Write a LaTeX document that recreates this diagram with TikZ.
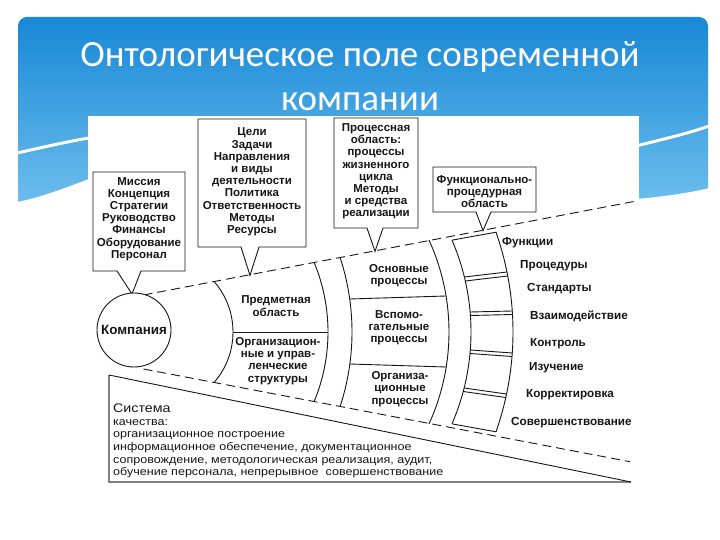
\documentclass[tikz,border=0pt]{standalone}
\usepackage{fontspec}
\setmainfont{Liberation Sans}
\newfontfamily\ttlfont{Carlito}
\newfontfamily\labfont{Liberation Sans}
\newfontfamily\sysfont[FakeStretch=1.14]{Liberation Sans}
\definecolor{hdrtop}{RGB}{24,136,214}
\definecolor{hdrbot}{RGB}{112,192,238}
\definecolor{ink}{RGB}{22,22,22}
\newcommand{\conearc}[4]{%
  \pgfmathsetmacro{\arcH}{0.1923*(#2+49)-#3}%
  \pgfmathsetmacro{\arcD}{#1-#2}%
  \pgfmathsetmacro{\arcR}{(\arcD*\arcD+\arcH*\arcH)/(2*\arcD)}%
  \pgfmathsetmacro{\arcA}{asin(\arcH/\arcR)}%
  \coordinate (#4-t) at (#2,{332-\arcH});%
  \coordinate (#4-b) at (#2,{332+\arcH});%
  \draw[ln] (#4-t) arc[start angle=-\arcA, end angle=\arcA, radius=\arcR];%
}
\tikzset{
  ln/.style={draw=ink, line width=0.9pt},
  dashln/.style={draw=ink, line width=0.9pt, dash pattern=on 9pt off 5pt},
  lab/.style={font=\labfont\bfseries\fontsize{11.5}{12.2}\selectfont, align=center, inner sep=0pt, text=ink},
  flab/.style={font=\labfont\bfseries\fontsize{11.7}{12.2}\selectfont, anchor=base west, inner sep=0pt, text=ink},
  sysl/.style={font=\sysfont\fontsize{11}{12.5}\selectfont, anchor=base west, inner sep=0pt, text=ink},
  ttl/.style={font=\ttlfont\fontsize{37}{40}\selectfont, text=white, anchor=base, inner sep=0pt}
}
\begin{document}
\begin{tikzpicture}[x=1pt,y=-1pt]
\useasboundingbox (0,0) rectangle (720,540);
\fill[white] (0,0) rectangle (720,540);
% header
\shade[top color=hdrtop, bottom color=hdrbot, rounded corners=9pt] (18,17) rectangle (708,212);
\fill[white] (17,213) -- (17,202) .. controls (40,198) and (70,186) .. (89,179) -- (89,213) -- cycle;
\fill[white] (636,213) -- (636,199) .. controls (660,197) and (690,193) .. (709,188) -- (709,213) -- cycle;
\draw[white, line width=3pt] (17,153) .. controls (40,148) and (65,142) .. (89,138);
\draw[white, line width=3pt] (636,146) .. controls (660,140) and (690,133) .. (709,126);
\node[ttl] (title1) at (360,67) {Онтологическое поле современной};
\node[ttl] (title2) at (360,111) {компании};
% diagram sheet
\fill[white] (88,116) rectangle (639,496);
% cone arcs
\conearc{233}{214}{0}{A1}
\conearc{328}{314}{0}{A2}
\conearc{352}{340}{0}{A3}
\conearc{449}{429}{0}{A4}
\conearc{471}{452}{4.5}{A5}
\conearc{513}{496}{5}{A6}
\draw[ln] (A5-t) -- (A6-t);
\draw[ln] (A5-b) -- (A6-b);
% dividers
\draw[ln] (233,332) -- (328,332);
\draw[ln] (349.7,299) -- (446,296);
\draw[ln] (349.8,364) -- (446.2,367);
% cell separators (double)
\draw[ln] (464.4,277) -- (507,272);
\draw[ln] (465.3,281) -- (507.8,276);
\draw[ln] (470.1,312) -- (512.3,311);
\draw[ln] (470.4,315.5) -- (512.6,314.5);
\draw[ln] (470.3,350) -- (512.3,353);
\draw[ln] (470,353.5) -- (512,356.5);
\draw[ln] (464.1,388) -- (506.5,394);
\draw[ln] (463.2,391.5) -- (505.8,397.5);
% dashed cone lines
\coordinate (upS) at (143.5,295);
\coordinate (upE) at (637,200.9);
\coordinate (loS) at (143.5,369);
\coordinate (loE) at (630,461.7);
\draw[dashln] (upS) -- (upE);
\draw[dashln] (loS) -- (loE);
% quality system box
\coordinate (sTL) at (109,375);
\coordinate (sBL) at (109,482);
\coordinate (sBR) at (631,482);
\draw[line width=1.8pt, black!50] (sBR) -- (sBL) -- (sTL);
\draw[ln] (sTL) -- (sBR);
% callouts
\coordinate (tipM) at (132,294);
\coordinate (tipC) at (250,275.4);
\coordinate (tipP) at (375,251.4);
\coordinate (tipF) at (483,230.6);
\draw[ln, fill=white] (93,172) -- (185,172) -- (185,271) -- (141,271) -- (tipM) -- (117,271) -- (93,271) -- cycle;
\draw[ln, fill=white] (198,119) -- (306,119) -- (306,247) -- (259,247) -- (tipC) -- (241,247) -- (198,247) -- cycle;
\draw[ln, fill=white] (334,118) -- (418,118) -- (418,228) -- (383,228) -- (tipP) -- (367,228) -- (334,228) -- cycle;
\draw[ln, fill=white] (433,167) -- (536,167) -- (536,212) -- (491,212) -- (tipF) -- (476,212) -- (433,212) -- cycle;
% company circle
\node[circle, ln, fill=white, minimum size=74pt, inner sep=0pt, font=\labfont\bfseries\fontsize{13.4}{14}\selectfont, text=ink] (comp) at (134,330) {Компания};
% box texts
\node[lab] (mis) at (139,219) {Миссия\\Концепция\\Стратегии\\Руководство\\Финансы\\Оборудование\\Персонал};
\node[lab] (goals) at (252,182) {Цели\\Задачи\\Направления\\и виды\\деятельности\\Политика\\Ответственность\\Методы\\Ресурсы};
\node[lab] (proc) at (376,171.5) {Процессная\\область:\\процессы\\жизненного\\цикла\\Методы\\и средства\\реализации};
\node[lab] (func) at (484.5,191.5) {Функционально-\\процедурная\\область};
% region texts
\node[lab] (pred) at (276,306) {Предметная\\область};
\node[lab] (orgstr) at (278,361) {Организацион-\\ные и управ-\\ленческие\\структуры};
\node[lab] (osn) at (399,276) {Основные\\процессы};
\node[lab] (vsp) at (399,327.5) {Вспомо-\\гательные\\процессы};
\node[lab] (orgpr) at (400,389) {Организа-\\ционные\\процессы};
% functional labels
\node[flab] (f1) at (502,245) {Функции};
\node[flab] (f2) at (520,268) {Процедуры};
\node[flab] (f3) at (527,291) {Стандарты};
\node[flab] (f4) at (530,319) {Взаимодействие};
\node[flab] (f5) at (530,346) {Контроль};
\node[flab] (f6) at (529,370) {Изучение};
\node[flab] (f7) at (526,397) {Корректировка};
\node[flab] (f8) at (511,425) {Совершенствование};
% quality system text
\node[sysl, font=\sysfont\fontsize{12.5}{13}\selectfont] (s1) at (113,412) {Система};
\node[sysl] (s2) at (113,425) {качества:};
\node[sysl] (s3) at (113,437.5) {организационное построение};
\node[sysl] (s4) at (113,450.5) {информационное обеспечение, документационное};
\node[sysl] (s5) at (113,463) {сопровождение, методологическая реализация, аудит,};
\node[sysl] (s6) at (113,475) {обучение персонала, непрерывное~ совершенствование};
\end{tikzpicture}
\end{document}
